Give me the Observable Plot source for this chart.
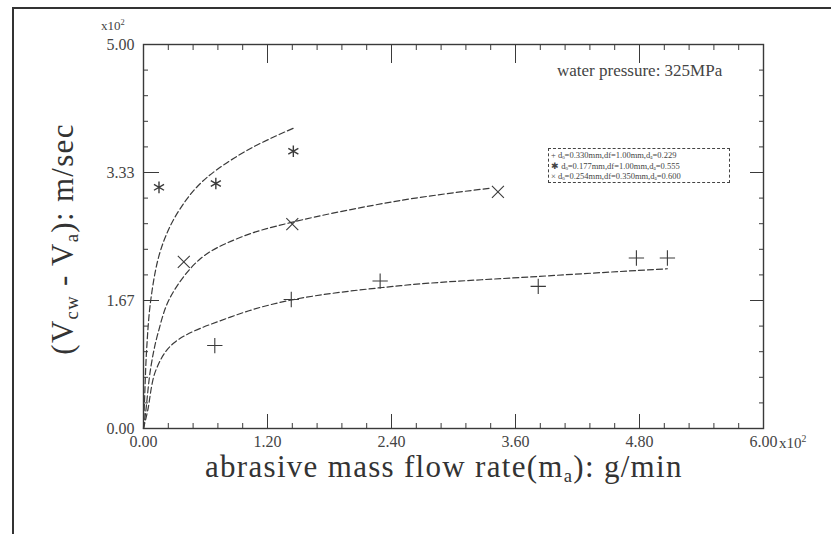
<!DOCTYPE html>
<html><head><meta charset="utf-8">
<script src="https://cdn.jsdelivr.net/npm/d3@7"></script>
<script src="https://cdn.jsdelivr.net/npm/@observablehq/plot@0.6"></script>
<style>
html,body{margin:0;padding:0;background:#fff;}
#wrap{position:relative;width:831px;height:534px;overflow:hidden;font-family:"Liberation Serif",serif;color:#333;}
#wrap svg{position:absolute;left:0;top:0;}
.ov{position:absolute;white-space:nowrap;line-height:1;}
.ov sub{font-size:0.6em;vertical-align:-0.25em;}
</style></head>
<body><div id="wrap"></div>
<script>
// ---- data (units of 10^2 on both axes) ----
const xMajor = [0, 1.2, 2.4, 3.6, 4.8, 6.0];
const xTickLabels = ["0.00", "1.20", "2.40", "3.60", "4.80", "6.00"];
const yMajor = [0, 5/3, 10/3, 5];
const yTickLabels = ["0.00", "1.67", "3.33", "5.00"];
const xMinor = d3.range(0, 6.001, 0.24);
const yMinor = d3.range(0, 5.001, 1/3);

// measured points
const plusX = [0.69, 1.43, 2.29, 3.82, 4.77, 5.07];
const plusY = [1.08, 1.68, 1.92, 1.85, 2.22, 2.22];
const starX = [0.15, 0.70, 1.45];
const starY = [3.14, 3.19, 3.61];
const timesX = [0.39, 1.44, 3.43];
const timesY = [2.17, 2.66, 3.08];

// fitted curves
const curveStarX = [0, 0.01, 0.03, 0.07, 0.15, 0.26, 0.41, 0.55, 0.70, 1.04, 1.45];
const curveStarY = [0, 0.36, 1.02, 1.67, 2.25, 2.64, 2.97, 3.19, 3.36, 3.65, 3.91];
const curveTimesX = [0, 0.02, 0.07, 0.14, 0.26, 0.55, 0.94, 1.42, 2.49, 3.36];
const curveTimesY = [0, 0.20, 0.79, 1.24, 1.71, 2.21, 2.49, 2.68, 2.97, 3.13];
const curvePlusX = [0, 0.04, 0.12, 0.29, 0.84, 1.42, 2.49, 3.82, 5.07];
const curvePlusY = [0, 0.23, 0.76, 1.11, 1.45, 1.67, 1.86, 1.98, 2.08];

const legendLabels = [
  "+ d\u2092=0.330mm,d\u0066=1.00mm,d\u2090=0.229",
  "\u2731 d\u2092=0.177mm,d\u0066=1.00mm,d\u2090=0.555",
  "\u00d7 d\u2092=0.254mm,d\u0066=0.350mm,d\u2090=0.600"
];

const toPts = (xs, ys) => xs.map((x, i) => ({x, y: ys[i]}));
const ink = "#3a3a3a";

const tickLab = (ticks, labels) => d => labels[ticks.indexOf(d)];

const chart = Plot.plot({
  width: 831, height: 534,
  marginLeft: 143, marginRight: 68, marginTop: 44, marginBottom: 106,
  x: {domain: [0, 6]},
  y: {domain: [0, 5]},
  style: {fontFamily: "Liberation Serif, serif", fontSize: "16px", color: "#444", background: "transparent"},
  marks: [
    Plot.frame({stroke: ink, strokeWidth: 1.4}),
    Plot.axisX({anchor: "bottom", ticks: xMinor, tickSize: -5, tickFormat: () => "", label: null, stroke: ink}),
    Plot.axisX({anchor: "bottom", ticks: xMajor, tickSize: -14, tickFormat: () => "", label: null, stroke: ink}),
    Plot.axisX({anchor: "top", ticks: xMinor, tickSize: -5, tickFormat: () => "", label: null, stroke: ink}),
    Plot.axisX({anchor: "top", ticks: xMajor, tickSize: -18, tickFormat: () => "", label: null, stroke: ink}),
    Plot.axisY({anchor: "left", ticks: yMinor, tickSize: -5, tickFormat: () => "", label: null, stroke: ink}),
    Plot.axisY({anchor: "left", ticks: yMajor, tickSize: -16, tickFormat: () => "", label: null, stroke: ink}),
    Plot.axisY({anchor: "right", ticks: yMinor, tickSize: -5, tickFormat: () => "", label: null, stroke: ink}),
    Plot.axisY({anchor: "right", ticks: yMajor, tickSize: -14, tickFormat: () => "", label: null, stroke: ink}),
    Plot.axisX({anchor: "bottom", ticks: xMajor, tickSize: 0, tickPadding: 7, fontSize: 16, tickFormat: tickLab(xMajor, xTickLabels), label: null}),
    Plot.axisY({anchor: "left", ticks: yMajor, tickSize: 0, tickPadding: 9, fontSize: 16, tickFormat: tickLab(yMajor, yTickLabels), label: null}),
    Plot.line(toPts(curveStarX, curveStarY), {x: "x", y: "y", curve: "catmull-rom", stroke: ink, strokeWidth: 1.2, strokeDasharray: "6,3"}),
    Plot.line(toPts(curveTimesX, curveTimesY), {x: "x", y: "y", curve: "catmull-rom", stroke: ink, strokeWidth: 1.2, strokeDasharray: "6,3"}),
    Plot.line(toPts(curvePlusX, curvePlusY), {x: "x", y: "y", curve: "catmull-rom", stroke: ink, strokeWidth: 1.2, strokeDasharray: "6,3"}),
    Plot.dot(toPts(plusX, plusY), {x: "x", y: "y", symbol: "plus", r: 5, stroke: ink, strokeWidth: 1.1}),
    Plot.dot(toPts(starX, starY), {x: "x", y: "y", symbol: "asterisk", r: 5.5, stroke: ink, strokeWidth: 1.4}),
    Plot.dot(toPts(timesX, timesY), {x: "x", y: "y", symbol: "times", r: 5.5, stroke: ink, strokeWidth: 1.1})
  ]
});

const wrap = document.getElementById("wrap");
wrap.appendChild(chart);

function ov(html, css) {
  const d = document.createElement("div");
  d.className = "ov";
  d.innerHTML = html;
  Object.assign(d.style, css);
  wrap.appendChild(d);
  return d;
}
// page frame (scan border)
ov("", {left: "12px", top: "7px", width: "900px", height: "600px", borderTop: "2px solid #333", borderLeft: "2px solid #333"});
ov("x10<sup style='font-size:0.65em'>2</sup>", {left: "101px", top: "18px", fontSize: "13px", color: "#444"});
ov("x10<sup style='font-size:0.65em'>2</sup>", {left: "779px", top: "434px", fontSize: "15px", color: "#444"});
ov("water pressure: 325MPa", {left: "557px", top: "62px", fontSize: "17px", color: "#444"});
ov("abrasive mass flow rate(m<sub>a</sub>): g/min", {left: "205px", top: "455px", fontSize: "31px", lineHeight: "0.8", letterSpacing: "1.3px", color: "#333"});
ov("(V<sub>cw</sub> - V<sub>a</sub>): m/sec", {left: "64px", top: "239px", fontSize: "31px", letterSpacing: "1.3px", color: "#333", transform: "translate(-50%,-50%) rotate(-90deg)"});
ov(legendLabels.map(s => `<div>${s}</div>`).join(""),
  {left: "548px", top: "148px", width: "176px", height: "31px", border: "1px dashed #444", padding: "1px 2px", fontSize: "8.5px", lineHeight: "10.5px", color: "#444"});
</script>
</body></html>
